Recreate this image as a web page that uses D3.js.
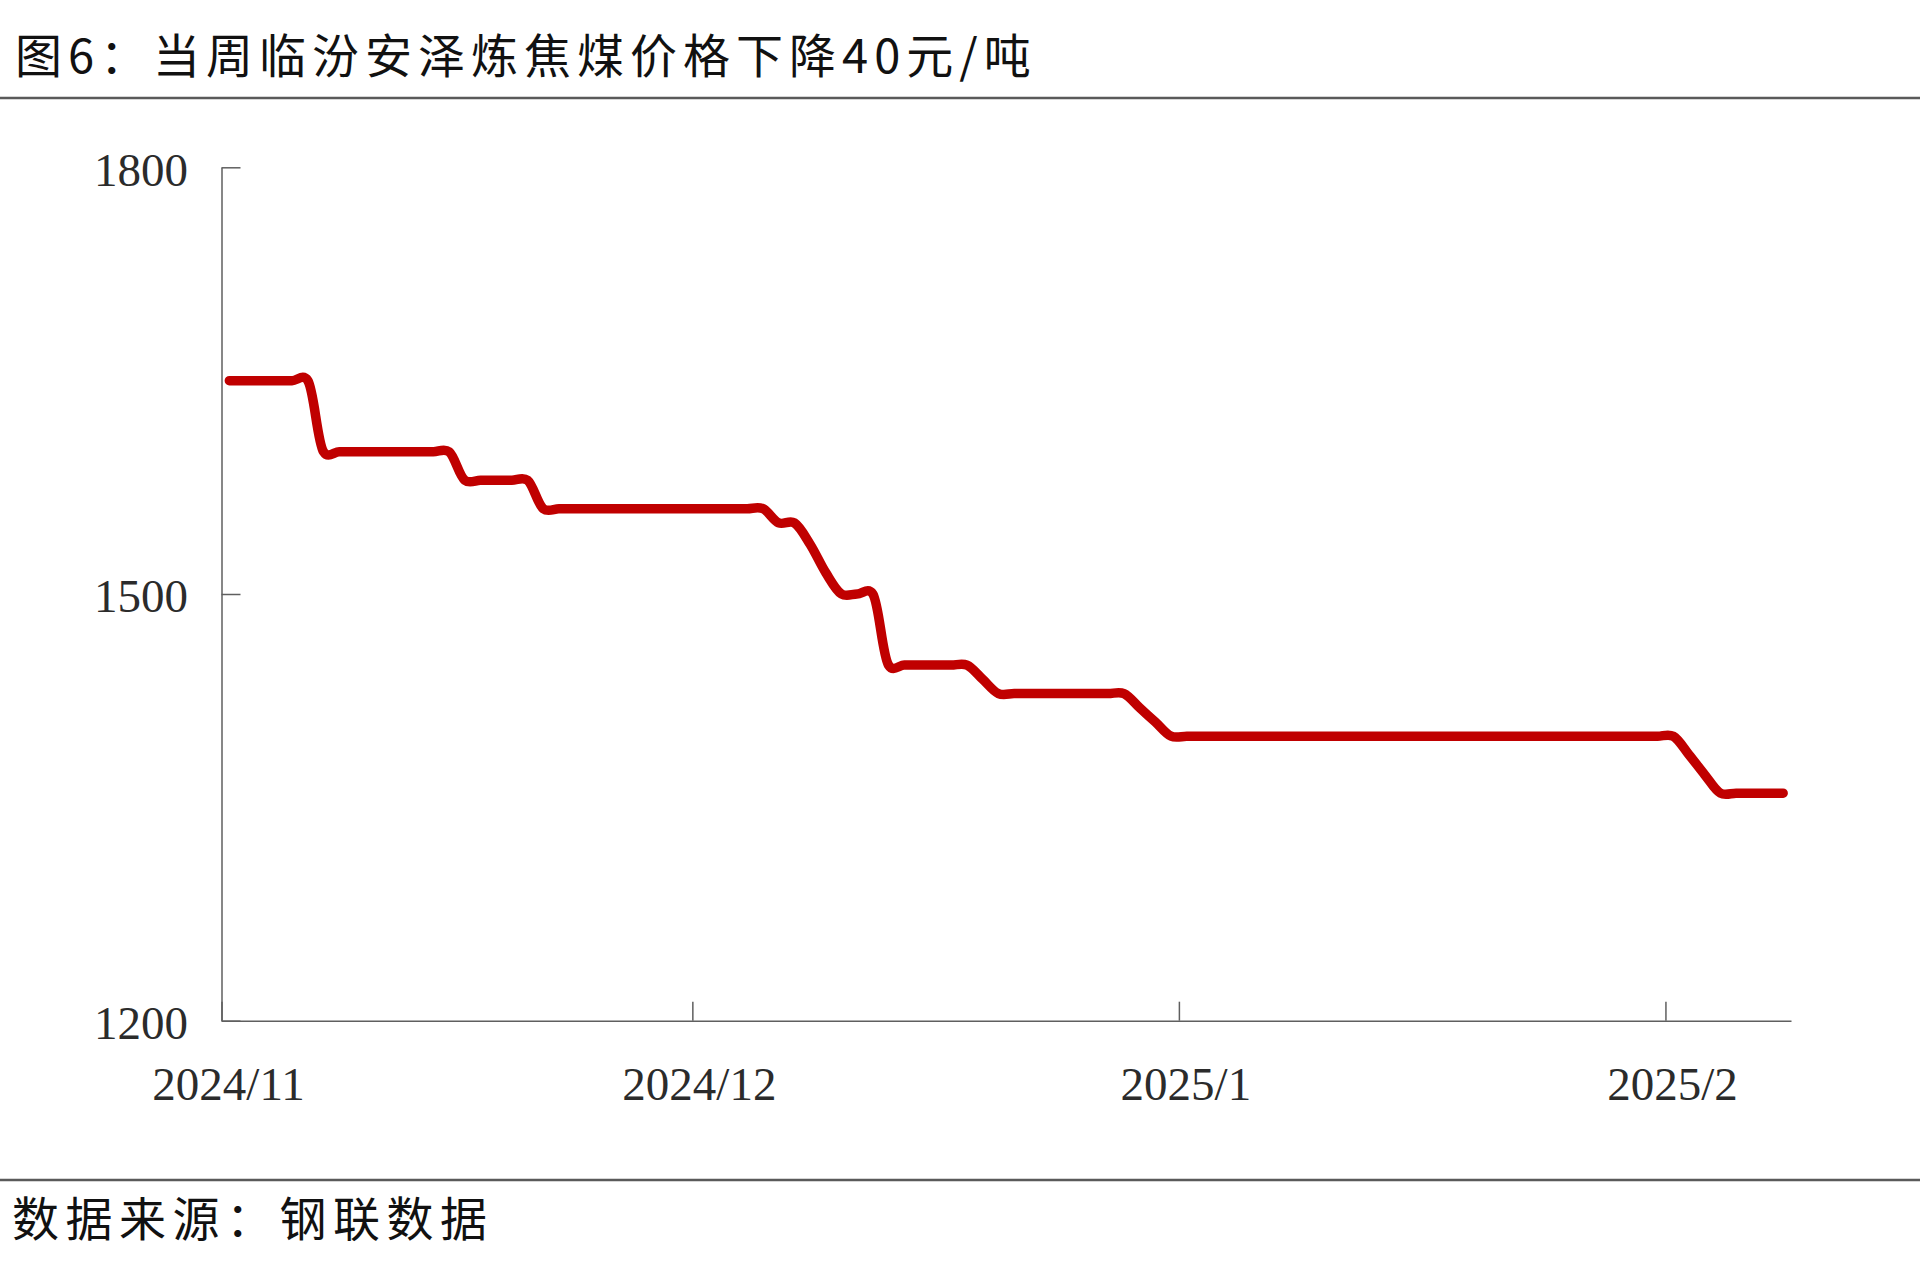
<!DOCTYPE html>
<html>
<head>
<meta charset="utf-8">
<script src="https://cdn.jsdelivr.net/npm/d3@7"></script>
<style>
  html, body { margin: 0; padding: 0; background: #ffffff; }
  svg { display: block; }
</style>
</head>
<body>
<svg id="chart" width="1920" height="1279"></svg>
<script>
// ---- Data ----
const titleText = "图6：当周临汾安泽炼焦煤价格下降40元/吨";
const sourceText = "数据来源：钢联数据";
const startDate = "2024-11-01";          // first daily observation
const axisEndDate = "2025-02-09";        // end of the date axis
const monthTicks = ["2024-11-01", "2024-12-01", "2025-01-01", "2025-02-01"];
const monthLabels = ["2024/11", "2024/12", "2025/1", "2025/2"];
const yTicks = [1200, 1500, 1800];
// daily price, 2024-11-01 .. 2025-02-08 (元/吨)
const prices = [
  1650, 1650, 1650, 1650, 1650, 1650,                         // Nov 1-6
  1600, 1600, 1600, 1600, 1600, 1600, 1600, 1600, 1600,       // Nov 7-15
  1580, 1580, 1580, 1580, 1580,                               // Nov 16-20
  1560, 1560, 1560, 1560, 1560, 1560, 1560, 1560, 1560, 1560, // Nov 21-30
  1560, 1560, 1560, 1560, 1560,                               // Dec 1-5
  1550, 1550, 1535, 1515,                                     // Dec 6-9
  1500, 1500, 1500,                                           // Dec 10-12
  1450, 1450, 1450, 1450, 1450, 1450,                         // Dec 13-18
  1440,                                                       // Dec 19
  1430, 1430, 1430, 1430, 1430, 1430, 1430, 1430, 1430,       // Dec 20-28
  1420, 1410,                                                 // Dec 29-30
  1400,                                                       // Dec 31
  1400, 1400, 1400, 1400, 1400, 1400, 1400, 1400, 1400, 1400, // Jan 1-10
  1400, 1400, 1400, 1400, 1400, 1400, 1400, 1400, 1400, 1400, // Jan 11-20
  1400, 1400, 1400, 1400, 1400, 1400, 1400, 1400, 1400, 1400, // Jan 21-30
  1400, 1400,                                                 // Jan 31 - Feb 1
  1387, 1373,                                                 // Feb 2-3
  1360, 1360, 1360, 1360, 1360                                // Feb 4-8
];

// ---- Layout ----
const parse = d3.utcParse("%Y-%m-%d");
const svg = d3.select("#chart");
const cjk = "'Noto Sans CJK SC', 'Noto Sans', sans-serif";
const serif = "'Liberation Serif', 'DejaVu Serif', serif";
const axisColor = "#5f5f5f";
const textColor = "#2b2b2b";

const x = d3.scaleUtc()
  .domain([parse(startDate), parse(axisEndDate)])
  .range([221.5, 1791]);
const y = d3.scaleLinear().domain([1200, 1800]).range([1020.7, 167.3]);

const days = d3.utcDay.range(parse(startDate), d3.utcDay.offset(parse(startDate), prices.length));
const data = days.map((d, i) => ({ date: d3.utcHour.offset(d, 12), value: prices[i] }));

// Title & rules
svg.append("text")
  .attr("x", 15).attr("y", 73)
  .attr("font-family", cjk).attr("font-size", 47)
  .attr("letter-spacing", 6)
  .attr("fill", "#111")
  .text(titleText);

svg.append("line").attr("x1", 0).attr("x2", 1920).attr("y1", 98).attr("y2", 98)
  .attr("stroke", "#5a5a5a").attr("stroke-width", 2.5);
svg.append("line").attr("x1", 0).attr("x2", 1920).attr("y1", 1180).attr("y2", 1180)
  .attr("stroke", "#5a5a5a").attr("stroke-width", 2.5);

svg.append("text")
  .attr("x", 12).attr("y", 1236)
  .attr("font-family", cjk).attr("font-size", 47)
  .attr("letter-spacing", 6.5)
  .attr("fill", "#111")
  .text(sourceText);

// Axes
const yAxis = d3.axisLeft(y)
  .tickValues(yTicks)
  .tickSizeInner(-19).tickSizeOuter(0).tickPadding(33.5)
  .tickFormat(d3.format("d"));
const gy = svg.append("g").attr("transform", "translate(221.5,0)").call(yAxis);
gy.select(".domain").attr("stroke", axisColor).attr("stroke-width", 1.5);
gy.selectAll(".tick line").attr("stroke", axisColor).attr("stroke-width", 1.5);
gy.selectAll(".tick text")
  .attr("font-family", serif).attr("font-size", 47)
  .attr("fill", textColor).attr("dy", "0.38em");

const xAxis = d3.axisBottom(x)
  .tickValues(monthTicks.map(parse))
  .tickSizeInner(-19).tickSizeOuter(0)
  .tickFormat((d, i) => monthLabels[i]);
const gx = svg.append("g").attr("transform", "translate(0,1020.7)").call(xAxis);
gx.select(".domain").attr("stroke", axisColor).attr("stroke-width", 1.5);
gx.selectAll(".tick line").attr("stroke", axisColor).attr("stroke-width", 1.5);
gx.selectAll(".tick text")
  .attr("font-family", serif).attr("font-size", 47)
  .attr("fill", textColor)
  .attr("x", 6.5).attr("y", 79).attr("dy", 0);

// Line
const line = d3.line()
  .x(d => x(d.date))
  .y(d => y(d.value))
  .curve(d3.curveCatmullRom.alpha(0.2));

svg.append("path")
  .datum(data)
  .attr("d", line)
  .attr("fill", "none")
  .attr("stroke", "#c00000")
  .attr("stroke-width", 9.5)
  .attr("stroke-linecap", "round")
  .attr("stroke-linejoin", "round");
</script>
</body>
</html>
